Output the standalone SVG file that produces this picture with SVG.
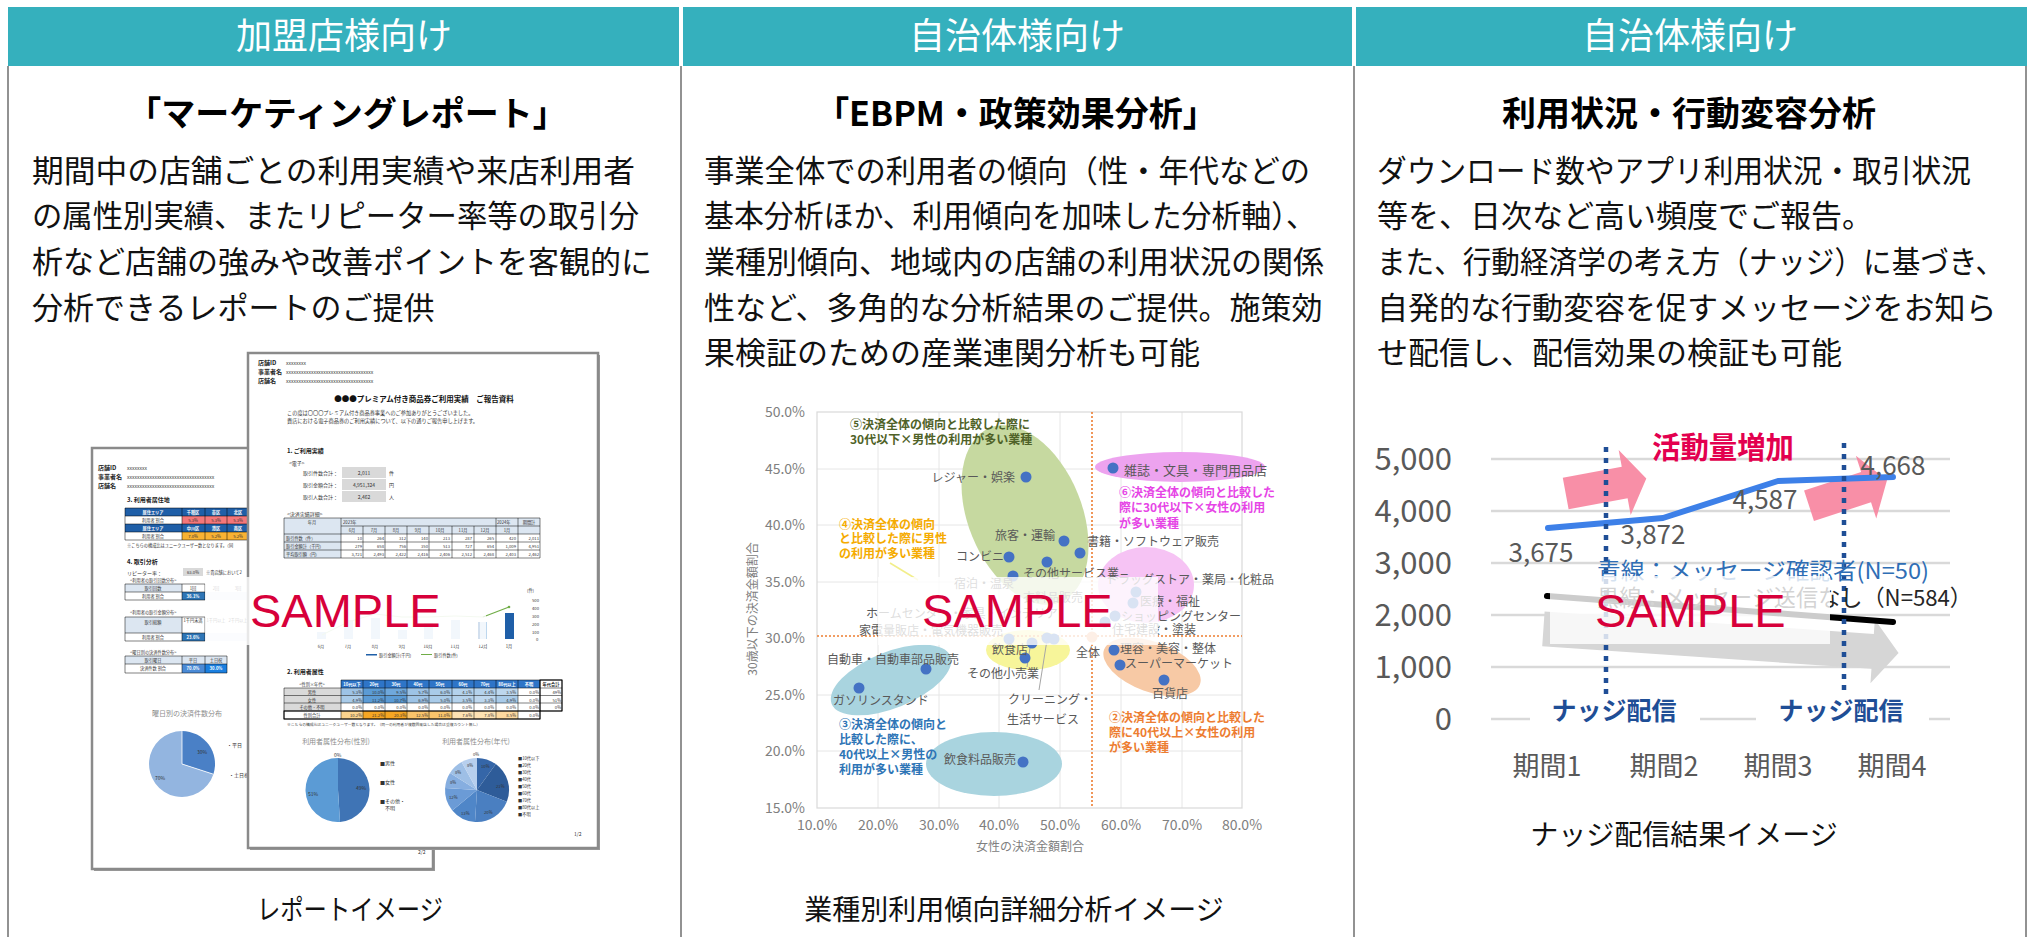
<svg xmlns="http://www.w3.org/2000/svg" width="2033" height="937" viewBox="0 0 2033 937">
<defs>
<style>
text{font-family:"Noto Sans CJK JP","Noto Sans",sans-serif}
.hdr{fill:#35b0bd}
.ht{font-size:36px;fill:#fff;text-anchor:middle}
.tt{font-size:34px;font-weight:700;fill:#000;text-anchor:middle}
.bt{font-size:31px;fill:#111}
.cap{font-size:28px;fill:#111;text-anchor:middle}
.bd{stroke:#6e6e6e;stroke-width:1.5;fill:none}
.smp{font-family:"Liberation Sans",Arial,sans-serif;font-size:47px;fill:#d7003a}
.veil{fill:#fff;fill-opacity:.8}
.pg{fill:#fff;stroke:#8a8a8a;stroke-width:2.5}
.t6{font-size:6px;fill:#333}
.t6b{font-size:6px;fill:#222;font-weight:700}
.t5{font-size:5px;fill:#333}
.t4{font-size:4.2px;fill:#333}
.tw{font-size:4.2px;fill:#fff;font-weight:700;text-anchor:middle}
.tc{text-anchor:middle}
.tr{text-anchor:end}
.tl{stroke:#000;stroke-width:.5;fill:none}
.ax{font-family:"Liberation Sans",Arial,sans-serif;font-size:14px;fill:#808080}
.lb{font-size:12px;fill:#595959}
.an{font-size:12px;font-weight:700}
.pt{fill:#4472c4}
.grid{stroke:#e6e6e6;stroke-width:1}
.odot{stroke:#ed7d31;stroke-width:1.6;stroke-dasharray:2 2;fill:none}
.yl{font-family:"Liberation Sans",Arial,sans-serif;font-size:31px;fill:#595959;text-anchor:end}
.dl{font-family:"Liberation Sans",Arial,sans-serif;font-size:26px;fill:#595959;text-anchor:middle}
.xl{font-size:27px;fill:#595959;text-anchor:middle}
.gl{stroke:#d9d9d9;stroke-width:2.5}
.nd{font-size:25px;font-weight:700;fill:#1f4e96;text-anchor:middle}
.ndot{stroke:#1f4e96;stroke-width:4.5;stroke-dasharray:5 6;fill:none}
.pink{fill:#f7869f;fill-opacity:.92}
.lg{font-size:22.5px}
</style>
</defs>
<rect width="2033" height="937" fill="#fff"/>

<!-- frame -->
<g id="frame">
<rect class="hdr" x="8" y="7" width="671" height="59"/>
<rect class="hdr" x="683" y="7" width="669" height="59"/>
<rect class="hdr" x="1356" y="7" width="671" height="59"/>
<line class="bd" x1="8" y1="66" x2="8" y2="937"/>
<line class="bd" x1="681" y1="66" x2="681" y2="937"/>
<line class="bd" x1="1354" y1="66" x2="1354" y2="937"/>
<line class="bd" x1="2026" y1="66" x2="2026" y2="937"/>
<text class="ht" x="344" y="49">加盟店様向け</text>
<text class="ht" x="1017" y="49">自治体様向け</text>
<text class="ht" x="1690" y="49">自治体様向け</text>
</g>

<!-- column 1 -->
<g id="col1">
<text class="tt" x="347" y="126">「マーケティングレポート」</text>
<text class="bt" x="32" y="182" textLength="603" lengthAdjust="spacingAndGlyphs">期間中の店舗ごとの利用実績や来店利用者</text>
<text class="bt" x="32" y="227" textLength="607" lengthAdjust="spacingAndGlyphs">の属性別実績、またリピーター率等の取引分</text>
<text class="bt" x="32" y="273">析など店舗の強みや改善ポイントを客観的に</text>
<text class="bt" x="32" y="319">分析できるレポートのご提供</text>

<!-- back page -->
<g id="report-back">
<rect x="94" y="450" width="341" height="421" fill="#9a9a9a"/>
<rect class="pg" x="92" y="448" width="341" height="421"/>
<text class="t6b" x="98" y="470">店舗ID</text><text class="t5" x="127" y="470">xxxxxxxx</text>
<text class="t6b" x="98" y="479">事業者名</text><text class="t5" x="127" y="479">xxxxxxxxxxxxxxxxxxxxxxxxxxxxxxxxxxx</text>
<text class="t6b" x="98" y="488">店舗名</text><text class="t5" x="127" y="488">xxxxxxxxxxxxxxxxxxxxxxxxxxxxxxxxxxx</text>
<text class="t6b" x="127" y="502">3. 利用者居住地</text>
<rect x="125" y="508" width="125" height="8" fill="#1f5fa8"/>
<rect x="125" y="524" width="125" height="8" fill="#1f5fa8"/>
<rect x="182" y="516" width="68" height="8" fill="#f4777a"/>
<rect x="182" y="532" width="68" height="8" fill="#f9b233"/>
<text class="tw" x="153" y="514">居住エリア</text><text class="tw" x="193" y="514">千種区</text><text class="tw" x="216" y="514">東区</text><text class="tw" x="238" y="514">北区</text>
<text class="t4 tc" x="153" y="522">利用者 割合</text><text class="t4 tc" x="193" y="522">5.3%</text><text class="t4 tc" x="216" y="522">5.3%</text><text class="t4 tc" x="238" y="522">5.3%</text>
<text class="tw" x="153" y="530">居住エリア</text><text class="tw" x="193" y="530">中川区</text><text class="tw" x="216" y="530">港区</text><text class="tw" x="238" y="530">南区</text>
<text class="t4 tc" x="153" y="538">利用者 割合</text><text class="t4 tc" x="193" y="538">7.0%</text><text class="t4 tc" x="216" y="538">5.2%</text><text class="t4 tc" x="238" y="538">5.2%</text>
<path class="tl" d="M125 508H250M125 516H250M125 524H250M125 532H250M125 540H250M125 508V540M182 508V540M205 508V540M227 508V540"/>
<text class="t4" x="127" y="547">※こちらの構成比はユニークユーザー数となります。（同</text>
<text class="t6b" x="127" y="564">4. 取引分析</text>
<text class="t5" x="127" y="575">リピーター率：</text>
<rect x="183" y="568" width="20" height="8" fill="#d9d9d9"/>
<text class="t4 tc" x="193" y="574">63.0%</text>
<text class="t4" x="206" y="574">※貴店舗において2</text>
<text class="t4" x="130" y="582">&lt;利用者の取引回数分布&gt;</text>
<rect x="125" y="584" width="57" height="8" fill="#dce6f1"/>
<rect x="182" y="592" width="23" height="8" fill="#2e75b6"/>
<rect x="205" y="592" width="45" height="8" fill="#eaf1fa"/>
<text class="t4 tc" x="153" y="590">取引回数</text><text class="t4 tc" x="193" y="590">1回</text>
<text class="t4 tc" x="216" y="590" fill="#bbb">2回</text><text class="t4 tc" x="238" y="590" fill="#bbb">3回</text>
<text class="t4 tc" x="153" y="598">利用者 割合</text><text class="tw" x="193" y="598">36.1%</text>
<path class="tl" d="M125 584H205M125 592H205M125 600H205M125 584V600M182 584V600M205 584V600" stroke-width="1"/>
<text class="t4" x="130" y="614">&lt;利用者の取引金額分布&gt;</text>
<rect x="125" y="617" width="57" height="16" fill="#dce6f1"/>
<rect x="182" y="633" width="23" height="8" fill="#2e75b6"/>
<rect x="205" y="633" width="45" height="8" fill="#eaf1fa"/>
<text class="t4 tc" x="153" y="624">取引総額</text><text class="t4 tc" x="193" y="622" font-size="3px">1千円未満</text>
<text class="t4 tc" x="216" y="622" font-size="3px" fill="#bbb">1千円以上</text><text class="t4 tc" x="238" y="622" font-size="3px" fill="#bbb">2千円以上</text>
<text class="t4 tc" x="153" y="639">利用者 割合</text><text class="tw" x="193" y="639">23.6%</text>
<path class="tl" d="M125 617H205M125 633H205M125 641H205M125 617V641M182 617V641M205 617V641" stroke-width="1"/>
<text class="t4" x="130" y="654">&lt;曜日別の決済件数分布&gt;</text>
<rect x="125" y="656" width="102" height="8" fill="#dce6f1"/>
<rect x="182" y="664" width="23" height="9" fill="#4a8ad6"/>
<rect x="205" y="664" width="22" height="9" fill="#1a7fe0"/>
<text class="t4 tc" x="153" y="662">取引曜日</text><text class="t4 tc" x="193" y="662">平日</text><text class="t4 tc" x="216" y="662">土日祝</text>
<text class="t4 tc" x="153" y="670">決済件数 割合</text><text class="tw" x="193" y="670">70.0%</text><text class="tw" x="216" y="670">30.0%</text>
<path class="tl" d="M125 656H227M125 664H227M125 673H227M125 656V673M182 656V673M205 656V673M227 656V673" stroke-width="1"/>
<text class="tc" x="187" y="716" font-size="7px" fill="#8c8c8c">曜日別の決済件数分布</text>
<path d="M182 764L182 731A33 33 0 0 1 213.4 774.2Z" fill="#4a80c6"/>
<path d="M182 764L213.4 774.2A33 33 0 1 1 182 731Z" fill="#93b5e0"/>
<path d="M182 731L182 764L213.4 774.2" stroke="#fff" stroke-width=".8" fill="none"/>
<text class="t5" x="197" y="754" fill="#333">30%</text>
<text class="t5" x="155" y="780" fill="#333">70%</text>
<text class="t5" x="227" y="747" fill="#666">・平日</text>
<text class="t5" x="229" y="777" fill="#666">・土日祝</text>
<text class="t5" x="418" y="854" fill="#aaa">2/2</text>
</g>

<!-- front page -->
<g id="report-front">
<rect x="250" y="355" width="350" height="495" fill="#9a9a9a"/>
<rect class="pg" x="248" y="353" width="350" height="495"/>
<text class="t6b" x="258" y="365">店舗ID</text><text class="t5" x="286" y="365">xxxxxxxx</text>
<text class="t6b" x="258" y="374">事業者名</text><text class="t5" x="286" y="374">xxxxxxxxxxxxxxxxxxxxxxxxxxxxxxxxxxx</text>
<text class="t6b" x="258" y="383">店舗名</text><text class="t5" x="286" y="383">xxxxxxxxxxxxxxxxxxxxxxxxxxxxxxxxxxx</text>
<text class="tc" x="424" y="402" font-size="7.5px" font-weight="700" fill="#111">●●●プレミアム付き商品券ご利用実績　ご報告資料</text>
<text x="287" y="415" font-size="5.2px" fill="#333">この度は〇〇〇プレミアム付き商品券事業へのご参加ありがとうございました。</text>
<text x="287" y="423" font-size="5.2px" fill="#333">貴店における電子商品券のご利用実績について、以下の通りご報告申し上げます。</text>
<text class="t6b" x="287" y="453">1. ご利用実績</text>
<text class="t5" x="289" y="465">&lt;電子&gt;</text>
<rect x="342" y="467" width="44" height="11" fill="#d9d9d9"/>
<rect x="342" y="479" width="44" height="11" fill="#d9d9d9"/>
<rect x="342" y="491" width="44" height="11" fill="#d9d9d9"/>
<text class="t5 tr" x="338" y="475">取引件数合計：</text><text class="t5 tc" x="364" y="475">2,011</text><text class="t5" x="389" y="475">件</text>
<text class="t5 tr" x="338" y="487">取引金額合計：</text><text class="t5 tc" x="364" y="487">4,951,324</text><text class="t5" x="389" y="487">円</text>
<text class="t5 tr" x="338" y="499">取引人数合計：</text><text class="t5 tc" x="364" y="499">2,462</text><text class="t5" x="389" y="499">人</text>
<text class="t5" x="287" y="516">&lt;決済実績詳細&gt;</text>
<rect x="284" y="518" width="256" height="16" fill="#dce6f1"/>
<rect x="284" y="534" width="57" height="24" fill="#dce6f1"/>
<text class="t4 tc" x="312" y="524">年月</text>
<text class="t4" x="343" y="524">2023年</text><text class="t4" x="497" y="524">2024年</text><text class="t4 tc" x="529" y="524">期間計</text>
<text class="t4 tc" x="352" y="532">6月</text><text class="t4 tc" x="374" y="532">7月</text><text class="t4 tc" x="396" y="532">8月</text><text class="t4 tc" x="418" y="532">9月</text><text class="t4 tc" x="440" y="532">10月</text><text class="t4 tc" x="463" y="532">11月</text><text class="t4 tc" x="485" y="532">12月</text><text class="t4 tc" x="507" y="532">1月</text>
<text class="t4" x="286" y="540">取引件数（件）</text>
<text class="t4" x="286" y="548">取引金額計（千円）</text>
<text class="t4" x="286" y="556">平均取引額（円）</text>
<g class="t4 tr">
<text x="362" y="540">10</text><text x="384" y="540">264</text><text x="406" y="540">312</text><text x="428" y="540">140</text><text x="450" y="540">213</text><text x="472" y="540">287</text><text x="494" y="540">265</text><text x="516" y="540">420</text><text x="539" y="540">2,011</text>
<text x="362" y="548">279</text><text x="384" y="548">658</text><text x="406" y="548">756</text><text x="428" y="548">350</text><text x="450" y="548">513</text><text x="472" y="548">727</text><text x="494" y="548">654</text><text x="516" y="548">1,009</text><text x="539" y="548">4,951</text>
<text x="362" y="556">3,721</text><text x="384" y="556">2,493</text><text x="406" y="556">2,422</text><text x="428" y="556">2,416</text><text x="450" y="556">2,406</text><text x="472" y="556">2,512</text><text x="494" y="556">2,468</text><text x="516" y="556">2,403</text><text x="539" y="556">2,462</text>
</g>
<path class="tl" d="M284 518H540M341 526H540M284 534H540M284 542H540M284 550H540M284 558H540M284 518V558M341 518V558M363 526V558M385 526V558M407 526V558M429 526V558M452 526V558M474 526V558M496 518V558M518 518V558M540 518V558"/>
<!-- small chart -->
<text class="t4" x="527" y="592" fill="#555">(件)</text>
<g class="t4" fill="#888"><text x="532" y="602">500</text><text x="532" y="610">400</text><text x="532" y="618">300</text><text x="532" y="626">200</text><text x="532" y="634">100</text><text x="536" y="641">0</text></g>
<g fill="#bdd7ee">
<rect x="317" y="632" width="9" height="7"/><rect x="344" y="620" width="9" height="19"/><rect x="371" y="618" width="9" height="21"/><rect x="398" y="630" width="9" height="9"/><rect x="424" y="623" width="9" height="16"/><rect x="451" y="620" width="9" height="19"/><rect x="478" y="622" width="9" height="17"/>
</g>
<rect x="478" y="622" width="2" height="17" fill="#1f5fa8"/>
<rect x="505" y="613" width="9" height="26" fill="#1f5fa8"/>
<polyline points="322,635 348,622 375,614 402,617 428,617 455,616 483,617" fill="none" stroke="#c5e0b4" stroke-width="1"/>
<polyline points="483,617 509,607" fill="none" stroke="#70ad47" stroke-width="1.2"/>
<circle cx="509" cy="607" r="1.3" fill="#70ad47"/>
<g class="t4 tc" fill="#aaa"><text x="321" y="648">6月</text><text x="348" y="648">7月</text><text x="375" y="648">8月</text><text x="402" y="648">9月</text><text x="428" y="648">10月</text><text x="455" y="648">11月</text><text x="483" y="648">12月</text><text x="509" y="648">1月</text></g>
<rect x="366" y="654" width="11" height="1.5" fill="#1f5fa8"/><text class="t4" x="379" y="657" fill="#888">取引金額計(千円)</text>
<rect x="421" y="654" width="11" height="1" fill="#70ad47"/><text class="t4" x="434" y="657" fill="#888">取引件数(件)</text>
<text class="t6b" x="287" y="674">2. 利用者属性</text>
<!-- table 2 -->
<rect x="341" y="680" width="199" height="8" fill="#2e75c8"/>
<rect x="284" y="688" width="57" height="23" fill="#d9d9d9"/>
<g>
<rect x="341" y="688" width="22" height="7.5" fill="#9dc3e6"/><rect x="363" y="688" width="22" height="7.5" fill="#5b9bd5"/><rect x="385" y="688" width="22" height="7.5" fill="#6fa8dc"/><rect x="407" y="688" width="22" height="7.5" fill="#9dc3e6"/><rect x="429" y="688" width="23" height="7.5" fill="#a9cbe9"/><rect x="452" y="688" width="22" height="7.5" fill="#b4d2ec"/><rect x="474" y="688" width="22" height="7.5" fill="#b4d2ec"/><rect x="496" y="688" width="22" height="7.5" fill="#bdd7ee"/>
<rect x="341" y="695.5" width="22" height="7.5" fill="#a9cbe9"/><rect x="363" y="695.5" width="22" height="7.5" fill="#5b9bd5"/><rect x="385" y="695.5" width="22" height="7.5" fill="#5b9bd5"/><rect x="407" y="695.5" width="22" height="7.5" fill="#9dc3e6"/><rect x="429" y="695.5" width="23" height="7.5" fill="#a9cbe9"/><rect x="452" y="695.5" width="22" height="7.5" fill="#b4d2ec"/><rect x="474" y="695.5" width="22" height="7.5" fill="#bdd7ee"/><rect x="496" y="695.5" width="22" height="7.5" fill="#a9cbe9"/>
<rect x="341" y="711" width="22" height="8" fill="#fbd38d"/><rect x="363" y="711" width="22" height="8" fill="#f5a623"/><rect x="385" y="711" width="22" height="8" fill="#f5a623"/><rect x="407" y="711" width="22" height="8" fill="#f9c46b"/><rect x="429" y="711" width="23" height="8" fill="#f9c46b"/><rect x="452" y="711" width="22" height="8" fill="#fde2b3"/><rect x="474" y="711" width="22" height="8" fill="#fde2b3"/><rect x="496" y="711" width="22" height="8" fill="#fdd9a0"/>
</g>
<text class="t4 tc" x="312" y="686">&lt;性別×年代&gt;</text>
<g class="tw"><text x="352" y="686">10代以下</text><text x="374" y="686">20代</text><text x="396" y="686">30代</text><text x="418" y="686">40代</text><text x="440" y="686">50代</text><text x="463" y="686">60代</text><text x="485" y="686">70代</text><text x="507" y="686">80代以上</text><text x="529" y="686">不明</text></g>
<text class="tc" x="551" y="686" font-size="4.2px" font-weight="700" fill="#222">年代合計</text>
<g class="t4 tc"><text x="312" y="694">男性</text><text x="312" y="701.5">女性</text><text x="312" y="709">その他・不明</text><text x="312" y="717">性別合計</text></g>
<g class="t4 tr">
<text x="362" y="694">5.3%</text><text x="384" y="694">10.0%</text><text x="406" y="694">9.5%</text><text x="428" y="694">5.7%</text><text x="450" y="694">6.0%</text><text x="472" y="694">4.1%</text><text x="494" y="694">4.4%</text><text x="516" y="694">3.5%</text><text x="539" y="694">0.0%</text><text x="561" y="694">49%</text>
<text x="362" y="701.5">4.9%</text><text x="384" y="701.5">11.2%</text><text x="406" y="701.5">10.7%</text><text x="428" y="701.5">6.9%</text><text x="450" y="701.5">5.0%</text><text x="472" y="701.5">3.5%</text><text x="494" y="701.5">3.3%</text><text x="516" y="701.5">4.9%</text><text x="539" y="701.5">0.0%</text><text x="561" y="701.5">51%</text>
<text x="362" y="709">0.0%</text><text x="384" y="709">0.0%</text><text x="406" y="709">0.0%</text><text x="428" y="709">0.0%</text><text x="450" y="709">0.0%</text><text x="472" y="709">0.0%</text><text x="494" y="709">0.0%</text><text x="516" y="709">0.0%</text><text x="539" y="709">0.0%</text><text x="561" y="709">0%</text>
<text x="362" y="717">10.2%</text><text x="384" y="717">21.2%</text><text x="406" y="717">20.3%</text><text x="428" y="717">12.5%</text><text x="450" y="717">11.0%</text><text x="472" y="717">7.6%</text><text x="494" y="717">7.8%</text><text x="516" y="717">8.5%</text><text x="539" y="717">0.0%</text>
</g>
<path class="tl" d="M284 688H562M284 695.5H562M284 703H562M284 711H562M284 719H540M341 680H562M341 680V719M363 680V719M385 680V719M407 680V719M429 680V719M452 680V719M474 680V719M496 680V719M518 680V719M540 680V719M562 680V711M284 688V719"/>
<rect x="284" y="711" width="256" height="8" fill="none" stroke="#000" stroke-width="1"/>
<rect x="540" y="680" width="22" height="31" fill="none" stroke="#000" stroke-width="1"/>
<text x="287" y="726" font-size="3.8px" fill="#444">※こちらの構成比はユニークユーザー数となります。（同一の利用者が複数回来店した場合は重複カウント無し）</text>
<text class="tc" x="336" y="744" font-size="7px" fill="#8c8c8c">利用者属性分布(性別)</text>
<text class="tc" x="476" y="744" font-size="7px" fill="#8c8c8c">利用者属性分布(年代)</text>
<path d="M338 790L338 758A32 32 0 0 1 340 821.9Z" fill="#3f74b5"/>
<path d="M338 790L340 821.9A32 32 0 1 1 338 758Z" fill="#5b9bd5"/>
<text class="t5" x="334" y="757" fill="#555">0%</text>
<text class="t5" x="356" y="790" fill="#222">49%</text>
<text class="t5" x="308" y="796" fill="#222">51%</text>
<g class="t5" fill="#666"><text x="380" y="765">■男性</text><text x="380" y="784">■女性</text><text x="380" y="803">■その他・</text><text x="385" y="810">不明</text></g>
<path d="M477 790L477 758A32 32 0 0 1 495.8 764.1Z" fill="#3566a8"/>
<path d="M477 790L495.8 764.1A32 32 0 0 1 506.8 801.8Z" fill="#2e5c99"/>
<path d="M477 790L506.8 801.8A32 32 0 0 1 475 821.9Z" fill="#4a7fc1"/>
<path d="M477 790L475 821.9A32 32 0 0 1 452.3 810.4Z" fill="#4f86c8"/>
<path d="M477 790L452.3 810.4A32 32 0 0 1 445.1 788Z" fill="#6b9bd6"/>
<path d="M477 790L445.1 788A32 32 0 0 1 450 772.9Z" fill="#86aee0"/>
<path d="M477 790L450 772.9A32 32 0 0 1 461.6 762Z" fill="#9ebfe6"/>
<path d="M477 790L461.6 762A32 32 0 0 1 477 758Z" fill="#b7cfee"/>
<g class="t4" fill="#222"><text x="473" y="756">0%</text><text x="481" y="768">10%</text><text x="496" y="788">21%</text><text x="484" y="814">20%</text><text x="461" y="815">13%</text><text x="449" y="799">12%</text><text x="450" y="784">8%</text><text x="455" y="774">8%</text><text x="467" y="767">8%</text></g>
<g class="t4" fill="#777"><text x="518" y="760">■10代以下</text><text x="518" y="767">■20代</text><text x="518" y="774">■30代</text><text x="518" y="781">■40代</text><text x="518" y="788">■50代</text><text x="518" y="795">■60代</text><text x="518" y="802">■70代</text><text x="518" y="809">■80代以上</text><text x="518" y="816">■不明</text></g>
<text class="t5" x="574" y="836" fill="#aaa">1/2</text>
</g>
<rect class="veil" x="205" y="577" width="281" height="68"/>
<text class="smp" x="250" y="627">SAMPLE</text>
<text class="cap" x="350" y="920" textLength="186" lengthAdjust="spacingAndGlyphs">レポートイメージ</text>
</g>

<!-- column 2 -->
<g id="col2">
<text class="tt" x="1016" y="126">「EBPM・政策効果分析」</text>
<text class="bt" x="704" y="182" textLength="606" lengthAdjust="spacingAndGlyphs">事業全体での利用者の傾向（性・年代などの</text>
<text class="bt" x="704" y="227" textLength="612" lengthAdjust="spacingAndGlyphs">基本分析ほか、利用傾向を加味した分析軸）、</text>
<text class="bt" x="704" y="273">業種別傾向、地域内の店舗の利用状況の関係</text>
<text class="bt" x="704" y="319">性など、多角的な分析結果のご提供。施策効</text>
<text class="bt" x="704" y="364">果検証のための産業連関分析も可能</text>

<g id="scatter">
<g class="grid">
<line x1="817" y1="469" x2="1242" y2="469"/><line x1="817" y1="525" x2="1242" y2="525"/><line x1="817" y1="582" x2="1242" y2="582"/><line x1="817" y1="695" x2="1242" y2="695"/><line x1="817" y1="751" x2="1242" y2="751"/>
<line x1="878" y1="412" x2="878" y2="808"/><line x1="939" y1="412" x2="939" y2="808"/><line x1="999" y1="412" x2="999" y2="808"/><line x1="1060" y1="412" x2="1060" y2="808"/><line x1="1121" y1="412" x2="1121" y2="808"/><line x1="1182" y1="412" x2="1182" y2="808"/>
</g>
<rect x="817" y="412" width="425" height="396" fill="none" stroke="#d9d9d9" stroke-width="1.2"/>
<g class="ax" text-anchor="end">
<text x="805" y="417">50.0%</text><text x="805" y="474">45.0%</text><text x="805" y="530">40.0%</text><text x="805" y="587">35.0%</text><text x="805" y="643">30.0%</text><text x="805" y="700">25.0%</text><text x="805" y="756">20.0%</text><text x="805" y="813">15.0%</text>
</g>
<g class="ax" text-anchor="middle">
<text x="817" y="830">10.0%</text><text x="878" y="830">20.0%</text><text x="939" y="830">30.0%</text><text x="999" y="830">40.0%</text><text x="1060" y="830">50.0%</text><text x="1121" y="830">60.0%</text><text x="1182" y="830">70.0%</text><text x="1242" y="830">80.0%</text>
</g>
<text class="tc" x="1030" y="851" font-size="12px" fill="#808080">女性の決済金額割合</text>
<text class="tc" transform="translate(757,609) rotate(-90)" font-size="12px" fill="#808080">30歳以下の決済金額割合</text>

<ellipse cx="1025" cy="515" rx="57" ry="94" transform="rotate(-22 1025 515)" fill="#c6d9a0"/>
<ellipse cx="1180" cy="467" rx="85" ry="15" fill="#eda3ef"/>
<ellipse cx="1146" cy="585" rx="48" ry="38" fill="#f6c3f4"/>
<ellipse cx="1152" cy="667" rx="51" ry="25" transform="rotate(20 1152 667)" fill="#f7c9a5"/>
<ellipse cx="1028" cy="650" rx="42" ry="20" fill="#f7f59a"/>
<ellipse cx="891" cy="680" rx="64" ry="28" transform="rotate(-22 891 680)" fill="#a9d4df"/>
<ellipse cx="994" cy="764" rx="68" ry="32" fill="#a9d4df"/>

<line class="odot" x1="1092" y1="412" x2="1092" y2="808"/>
<line class="odot" x1="817" y1="636" x2="1242" y2="636"/>
<line x1="890" y1="563" x2="918" y2="580" stroke="#f2ee8a" stroke-width="1.5"/>
<line x1="1039" y1="690" x2="1047" y2="640" stroke="#a6a6a6" stroke-width="1"/>
<line x1="1027" y1="667" x2="1030" y2="648" stroke="#a6a6a6" stroke-width="1"/>

<g class="pt">
<circle cx="1026" cy="477" r="5.5"/><circle cx="1113" cy="468" r="5.5"/><circle cx="1064" cy="541" r="5.5"/><circle cx="1080" cy="553" r="5.5"/><circle cx="1009" cy="557" r="5.5"/><circle cx="1047" cy="562" r="5.5"/><circle cx="1013" cy="576" r="5.5"/>
<circle cx="1136" cy="592" r="5.5"/><circle cx="1133" cy="603" r="5.5"/><circle cx="1115" cy="616" r="5.5"/><circle cx="1105" cy="622" r="5.5"/><circle cx="1009" cy="639" r="5.5"/><circle cx="1047" cy="638" r="5.5"/><circle cx="1054" cy="639" r="5.5"/><circle cx="1032" cy="643" r="5.5"/>
<circle cx="1025" cy="658" r="5.5"/><circle cx="1114" cy="650" r="5.5"/><circle cx="1120" cy="665" r="5.5"/><circle cx="1164" cy="680" r="5.5"/><circle cx="926" cy="669" r="5.5"/><circle cx="859" cy="688" r="5.5"/><circle cx="1023" cy="762" r="5.5"/>
</g>
<circle cx="1092" cy="637" r="5.5" fill="#f4b183"/>

<g class="lb">
<text x="1015" y="482" text-anchor="end">レジャー・娯楽</text>
<text x="1124" y="475" font-size="13px">雑誌・文具・専門用品店</text>
<text x="1055" y="540" text-anchor="end">旅客・運輸</text>
<text x="1087" y="546">書籍・ソフトウェア販売</text>
<text x="1004" y="561" text-anchor="end">コンビニ</text>
<text x="1023" y="578">その他サービス業</text>
<text x="1106" y="584">ドラッグストア・薬局・化粧品</text>
<text x="954" y="588">宿泊・温泉</text>
<text x="1023" y="602">衣料品販売</text>
<text x="866" y="618">ホームセンター・家具・インテリア</text>
<text x="859" y="635">家電量販店・電気機器販売</text>
<text x="1140" y="606">医療・福祉</text>
<text x="1121" y="621">ショッピングセンター</text>
<text x="1112" y="634">住宅建設・塗装</text>
<text x="992" y="654">飲食店</text>
<text x="1076" y="657">全体</text>
<text x="1120" y="653">理容・美容・整体</text>
<text x="1125" y="668">スーパーマーケット</text>
<text x="1152" y="698">百貨店</text>
<text x="967" y="678">その他小売業</text>
<text x="1008" y="704">クリーニング・</text>
<text x="1007" y="724">生活サービス</text>
<text x="827" y="664">自動車・自動車部品販売</text>
<text x="833" y="705">ガソリンスタンド</text>
<text x="1016" y="764" text-anchor="end">飲食料品販売</text>
</g>
<g class="an" fill="#4f6228"><text x="850" y="429">⑤決済全体の傾向と比較した際に</text><text x="850" y="444">30代以下×男性の利用が多い業種</text></g>
<g class="an" fill="#e645e6"><text x="1119" y="497">⑥決済全体の傾向と比較した</text><text x="1119" y="512">際に30代以下×女性の利用</text><text x="1119" y="528">が多い業種</text></g>
<g class="an" fill="#f5ab00"><text x="839" y="529">④決済全体の傾向</text><text x="839" y="543">と比較した際に男性</text><text x="839" y="558">の利用が多い業種</text></g>
<g class="an" fill="#2e75b6"><text x="839" y="729">③決済全体の傾向と</text><text x="839" y="744">比較した際に、</text><text x="839" y="759">40代以上×男性の</text><text x="839" y="774">利用が多い業種</text></g>
<g class="an" fill="#ed7d31"><text x="1109" y="722">②決済全体の傾向と比較した</text><text x="1109" y="737">際に40代以上×女性の利用</text><text x="1109" y="752">が多い業種</text></g>
</g>
<rect class="veil" x="878" y="577" width="280" height="68"/>
<text class="smp" x="922" y="627">SAMPLE</text>
<text class="cap" x="1014" y="920">業種別利用傾向詳細分析イメージ</text>
</g>

<!-- column 3 -->
<g id="col3">
<text class="tt" x="1689" y="126">利用状況・行動変容分析</text>
<text class="bt" x="1377" y="182" textLength="594" lengthAdjust="spacingAndGlyphs">ダウンロード数やアプリ利用状況・取引状況</text>
<text class="bt" x="1377" y="227">等を、日次など高い頻度でご報告。</text>
<text class="bt" x="1377" y="273" textLength="627" lengthAdjust="spacingAndGlyphs">また、行動経済学の考え方（ナッジ）に基づき、</text>
<text class="bt" x="1377" y="319">自発的な行動変容を促すメッセージをお知ら</text>
<text class="bt" x="1377" y="364">せ配信し、配信効果の検証も可能</text>

<g id="linechart">
<g class="gl">
<line x1="1491" y1="459" x2="1950" y2="459"/><line x1="1491" y1="511" x2="1950" y2="511"/><line x1="1491" y1="563" x2="1950" y2="563"/><line x1="1491" y1="615" x2="1950" y2="615"/><line x1="1491" y1="667" x2="1950" y2="667"/>
<line x1="1491" y1="719" x2="1530" y2="719"/><line x1="1700" y1="719" x2="1756" y2="719"/><line x1="1929" y1="719" x2="1950" y2="719"/>
</g>
<g class="yl"><text x="1452" y="470">5,000</text><text x="1452" y="522">4,000</text><text x="1452" y="574">3,000</text><text x="1452" y="626">2,000</text><text x="1452" y="678">1,000</text><text x="1452" y="730">0</text></g>
<path d="M-178 -17.5L152 -17.5L152 -32L178 0L152 32L152 17.5L-178 17.5Z" transform="translate(1721 641) rotate(3.9)" fill="#d6d6d6"/>
<line x1="1547" y1="596" x2="1893" y2="622" stroke="#000" stroke-width="6" stroke-linecap="round"/>
<path class="pink" d="M-41 -16L19 -16L19 -33L41 0L19 33L19 16L-41 16Z" transform="translate(1606 486) rotate(-10.5)"/>
<path class="pink" d="M-41 -16L19 -16L19 -33L41 0L19 33L19 16L-41 16Z" transform="translate(1848 493) rotate(-18)"/>
<polyline points="1548,528 1663,518 1778,481 1893,477" fill="none" stroke="#3d80e8" stroke-width="6" stroke-linecap="round" stroke-linejoin="round"/>
<g class="dl"><text x="1541" y="562">3,675</text><text x="1653" y="544">3,872</text><text x="1765" y="509">4,587</text><text x="1893" y="475">4,668</text></g>
<text x="1652" y="458" font-size="30px" font-weight="700" fill="#e3004f" textLength="142" lengthAdjust="spacingAndGlyphs">活動量増加</text>
<line class="ndot" x1="1606" y1="447" x2="1606" y2="695"/>
<line class="ndot" x1="1844" y1="443" x2="1844" y2="695"/>
<text class="lg" x="1597" y="579" fill="#2f6eb5" textLength="332" lengthAdjust="spacingAndGlyphs">青線：メッセージ確認者(N=50)</text>
<text class="lg" x="1597" y="606" fill="#262626" textLength="375" lengthAdjust="spacingAndGlyphs">黒線：メッセージ送信なし（N=584）</text>
<rect class="veil" x="1550" y="576" width="280" height="68"/>
<text class="smp" x="1595" y="627">SAMPLE</text>
<text class="nd" x="1614" y="720">ナッジ配信</text>
<text class="nd" x="1841" y="720">ナッジ配信</text>
<g class="xl"><text x="1547" y="776">期間1</text><text x="1664" y="776">期間2</text><text x="1778" y="776">期間3</text><text x="1892" y="776">期間4</text></g>
</g>
<text class="cap" x="1684" y="845" font-size="27px">ナッジ配信結果イメージ</text>
</g>
</svg>
